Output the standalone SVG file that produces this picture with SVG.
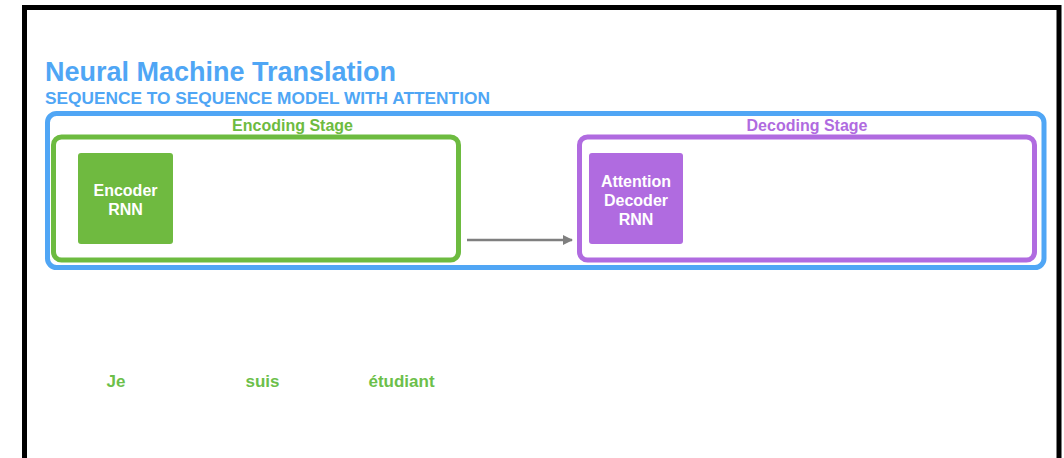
<svg xmlns="http://www.w3.org/2000/svg" width="1064" height="458" viewBox="0 0 1064 458">
<defs>
<style>
.t{font-family:"Liberation Sans",Arial,sans-serif;font-weight:bold}
.lbl{font-size:16px;fill:#ffffff;text-anchor:middle}
.stage{font-size:16px;text-anchor:middle}
.word{font-size:17px;fill:#6cbf4a;text-anchor:middle}
</style>
<marker id="ah" markerWidth="10" markerHeight="10" refX="9" refY="5" orient="auto" markerUnits="userSpaceOnUse">
<path d="M0,0 L10,5 L0,10 Z" fill="#7f7f7f"/>
</marker>
</defs>
<rect x="0" y="0" width="1064" height="458" fill="#ffffff"/>
<rect x="24.5" y="7.5" width="1034.5" height="470" fill="none" stroke="#000000" stroke-width="5"/>
<g id="title">
<text class="t" x="45" y="81" font-size="27" fill="#4fa6f5">Neural Machine Translation</text>
<text class="t" x="45" y="104" font-size="17.3" fill="#4fa6f5">SEQUENCE TO SEQUENCE MODEL WITH ATTENTION</text>
</g>
<g id="model">
<rect x="47.5" y="113.5" width="996.5" height="154" rx="9" fill="none" stroke="#50a6f5" stroke-width="5"/>
</g>
<g id="encoding-stage">
<rect x="53.5" y="137" width="405" height="123" rx="8" fill="none" stroke="#6dbb40" stroke-width="5"/>
<text class="t stage" x="292.5" y="131" fill="#6dbb40">Encoding Stage</text>
</g>
<g id="decoding-stage">
<rect x="579.5" y="137" width="455" height="123" rx="8" fill="none" stroke="#b06be0" stroke-width="5"/>
<text class="t stage" x="807" y="131" fill="#b06be0">Decoding Stage</text>
</g>
<g id="encoder-rnn">
<rect x="78" y="153" width="95" height="91" rx="3" fill="#6fba40"/>
<text class="t lbl" x="125.5" y="196">Encoder</text>
<text class="t lbl" x="125.5" y="215">RNN</text>
</g>
<g id="attention-decoder-rnn">
<rect x="589" y="153" width="94" height="91" rx="3" fill="#b06be0"/>
<text class="t lbl" x="636" y="187">Attention</text>
<text class="t lbl" x="636" y="206">Decoder</text>
<text class="t lbl" x="636" y="225">RNN</text>
</g>
<g id="connectors">
<line x1="467" y1="240" x2="572" y2="240" stroke="#7f7f7f" stroke-width="2.5" marker-end="url(#ah)"/>
</g>
<g id="words">
<text class="t word" x="116" y="387">Je</text>
<text class="t word" x="262.5" y="387">suis</text>
<text class="t word" x="401.5" y="387">étudiant</text>
</g>
</svg>
